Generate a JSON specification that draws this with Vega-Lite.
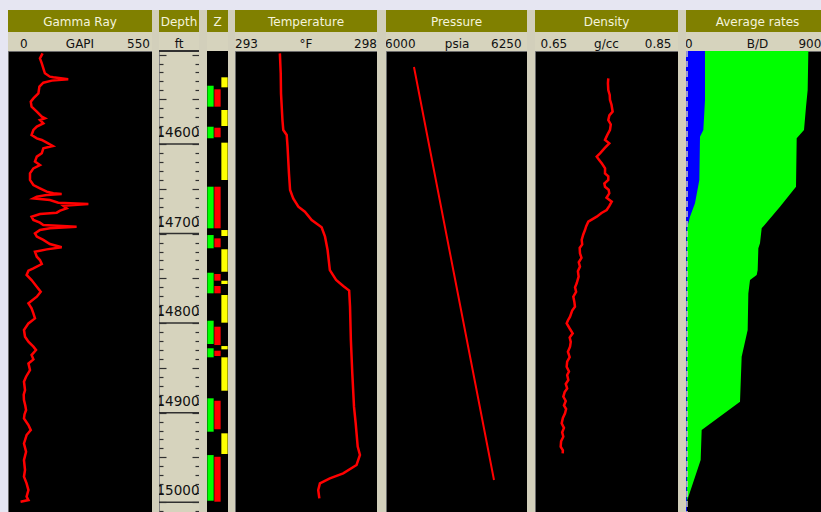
{
  "$schema": "https://vega.github.io/schema/vega-lite/v6.json",
  "padding": {"left": 0, "top": 10, "right": 0, "bottom": 0},
  "background": "#e6e6f2",
  "spacing": 0,
  "bounds": "flush",
  "align": "each",
  "columns": 14,
  "config": {"view": {"stroke": null}, "text": {"font": "DejaVu Sans"}, "scale": {"nice": false}},
  "datasets": {
    "gamma": [
      {"d":14498.6,"v":132},{"d":14504.2,"v":122},{"d":14509.8,"v":129},{"d":14515.4,"v":135},{"d":14520.9,"v":141},{"d":14524.7,"v":160},{"d":14525.4,"v":173},{"d":14527.6,"v":230},{"d":14529.1,"v":167},{"d":14531.4,"v":135},{"d":14535.8,"v":120},{"d":14543.3,"v":116},{"d":14548.9,"v":97},{"d":14552.6,"v":87},{"d":14558.2,"v":90},{"d":14563.8,"v":110},{"d":14569.4,"v":129},{"d":14571.2,"v":141},{"d":14573.1,"v":122},{"d":14576.8,"v":135},{"d":14580.5,"v":110},{"d":14584.2,"v":97},{"d":14589.8,"v":90},{"d":14593.6,"v":110},{"d":14595.4,"v":129},{"d":14598.4,"v":148},{"d":14602.1,"v":171},{"d":14604.7,"v":135},{"d":14610.3,"v":129},{"d":14614.0,"v":110},{"d":14619.6,"v":103},{"d":14623.4,"v":122},{"d":14627.1,"v":97},{"d":14632.7,"v":84},{"d":14640.1,"v":84},{"d":14645.7,"v":97},{"d":14649.4,"v":122},{"d":14653.1,"v":148},{"d":14655.0,"v":173},{"d":14655.8,"v":205},{"d":14656.9,"v":148},{"d":14658.7,"v":110},{"d":14660.6,"v":97},{"d":14662.5,"v":160},{"d":14665.4,"v":192},{"d":14666.9,"v":307},{"d":14668.8,"v":211},{"d":14671.8,"v":224},{"d":14674.4,"v":199},{"d":14676.6,"v":186},{"d":14678.1,"v":122},{"d":14681.1,"v":90},{"d":14684.8,"v":97},{"d":14687.8,"v":122},{"d":14690.4,"v":135},{"d":14692.3,"v":262},{"d":14694.1,"v":160},{"d":14696.0,"v":122},{"d":14699.7,"v":103},{"d":14703.4,"v":110},{"d":14707.1,"v":135},{"d":14711.6,"v":160},{"d":14715.3,"v":205},{"d":14717.6,"v":148},{"d":14720.2,"v":103},{"d":14725.8,"v":110},{"d":14729.5,"v":122},{"d":14734.0,"v":129},{"d":14738.8,"v":97},{"d":14741.4,"v":78},{"d":14746.2,"v":71},{"d":14751.9,"v":90},{"d":14759.3,"v":110},{"d":14764.9,"v":125},{"d":14770.5,"v":110},{"d":14777.9,"v":78},{"d":14783.5,"v":90},{"d":14789.1,"v":97},{"d":14794.7,"v":103},{"d":14800.3,"v":78},{"d":14807.7,"v":61},{"d":14815.2,"v":65},{"d":14820.8,"v":78},{"d":14826.3,"v":97},{"d":14830.1,"v":107},{"d":14835.7,"v":90},{"d":14840.5,"v":97},{"d":14845.0,"v":78},{"d":14852.4,"v":84},{"d":14859.9,"v":69},{"d":14865.5,"v":61},{"d":14874.8,"v":65},{"d":14880.0,"v":60},{"d":14886.0,"v":61},{"d":14892.0,"v":66},{"d":14897.1,"v":69},{"d":14902.0,"v":63},{"d":14906.4,"v":61},{"d":14913.9,"v":78},{"d":14919.5,"v":87},{"d":14925.0,"v":71},{"d":14934.4,"v":61},{"d":14943.7,"v":69},{"d":14953.0,"v":61},{"d":14964.1,"v":65},{"d":14971.6,"v":61},{"d":14979.0,"v":71},{"d":14986.5,"v":78},{"d":14993.9,"v":71},{"d":14997.7,"v":78},{"d":14999.5,"v":48}
    ],
    "temp": [
      {"d":14498.6,"v":294.58},{"d":14520.9,"v":294.61},{"d":14543.3,"v":294.62},{"d":14573.1,"v":294.67},{"d":14584.2,"v":294.70},{"d":14589.8,"v":294.82},{"d":14602.9,"v":294.85},{"d":14632.7,"v":294.90},{"d":14651.3,"v":294.94},{"d":14660.6,"v":295.05},{"d":14669.9,"v":295.23},{"d":14675.5,"v":295.46},{"d":14684.8,"v":295.70},{"d":14693.0,"v":296.05},{"d":14703.4,"v":296.17},{"d":14718.3,"v":296.26},{"d":14740.7,"v":296.34},{"d":14751.8,"v":296.56},{"d":14758.5,"v":296.81},{"d":14763.7,"v":297.02},{"d":14781.6,"v":297.05},{"d":14818.9,"v":297.08},{"d":14856.1,"v":297.13},{"d":14893.3,"v":297.19},{"d":14912.0,"v":297.25},{"d":14938.0,"v":297.32},{"d":14947.3,"v":297.40},{"d":14958.5,"v":297.28},{"d":14967.8,"v":296.81},{"d":14973.4,"v":296.34},{"d":14979.0,"v":295.99},{"d":14986.4,"v":295.93},{"d":14995.8,"v":295.97}
    ],
    "pres": [{"d":14513.9,"v":6049.6},{"d":14744.6,"v":6120.5},{"d":14975.3,"v":6191.5}],
    "dens": [
      {"d":14526.5,"v":0.7525},{"d":14532,"v":0.752},{"d":14539.6,"v":0.7525},{"d":14545,"v":0.7545},{"d":14550.7,"v":0.7549},{"d":14556,"v":0.757},{"d":14563.8,"v":0.7586},{"d":14568,"v":0.754},{"d":14573.1,"v":0.7525},{"d":14578,"v":0.756},{"d":14584.2,"v":0.7549},{"d":14590,"v":0.751},{"d":14595.4,"v":0.7479},{"d":14599.1,"v":0.7539},{"d":14604,"v":0.748},{"d":14610.3,"v":0.7409},{"d":14614,"v":0.7363},{"d":14618,"v":0.74},{"d":14621.5,"v":0.7433},{"d":14627,"v":0.748},{"d":14632.7,"v":0.7479},{"d":14636,"v":0.7525},{"d":14640.1,"v":0.7525},{"d":14644,"v":0.747},{"d":14647.6,"v":0.7479},{"d":14651,"v":0.753},{"d":14655,"v":0.7539},{"d":14660,"v":0.75},{"d":14664.3,"v":0.7573},{"d":14669,"v":0.754},{"d":14673.6,"v":0.7502},{"d":14677,"v":0.743},{"d":14681.1,"v":0.7363},{"d":14686.7,"v":0.7245},{"d":14692,"v":0.7215},{"d":14696,"v":0.7199},{"d":14701,"v":0.7175},{"d":14707.1,"v":0.7153},{"d":14712,"v":0.716},{"d":14716,"v":0.7125},{"d":14722,"v":0.7129},{"d":14727,"v":0.715},{"d":14732,"v":0.7112},{"d":14736.9,"v":0.7129},{"d":14742,"v":0.71},{"d":14748,"v":0.711},{"d":14755.5,"v":0.7083},{"d":14760,"v":0.706},{"d":14765,"v":0.7075},{"d":14770.5,"v":0.7036},{"d":14776,"v":0.705},{"d":14781.6,"v":0.7059},{"d":14786,"v":0.702},{"d":14792.8,"v":0.699},{"d":14797,"v":0.696},{"d":14800.2,"v":0.6943},{"d":14806,"v":0.6985},{"d":14811.4,"v":0.7027},{"d":14816,"v":0.6985},{"d":14821,"v":0.7},{"d":14826.3,"v":0.699},{"d":14832,"v":0.696},{"d":14838,"v":0.6985},{"d":14843,"v":0.695},{"d":14848.7,"v":0.6943},{"d":14854,"v":0.6975},{"d":14858,"v":0.695},{"d":14863.5,"v":0.6966},{"d":14868,"v":0.693},{"d":14873,"v":0.695},{"d":14877,"v":0.6915},{"d":14882.2,"v":0.6896},{"d":14887,"v":0.693},{"d":14892,"v":0.6905},{"d":14896,"v":0.6935},{"d":14900.8,"v":0.692},{"d":14906,"v":0.689},{"d":14912,"v":0.6873},{"d":14917,"v":0.6905},{"d":14922,"v":0.688},{"d":14926.9,"v":0.6896},{"d":14932,"v":0.6865},{"d":14938,"v":0.6859},{"d":14942,"v":0.689},{"d":14945.5,"v":0.6887}
    ],
    "zones": [
      {"lane":"Y","top":14525.4,"bottom":14536.6},{"lane":"Y","top":14561.9,"bottom":14579.8},{"lane":"Y","top":14598.4,"bottom":14640.1},{"lane":"Y","top":14696.0,"bottom":14702.7},{"lane":"Y","top":14717.5,"bottom":14742.6},{"lane":"Y","top":14752.6,"bottom":14756.3},{"lane":"Y","top":14768.6,"bottom":14799.5},{"lane":"Y","top":14825.6,"bottom":14829.3},{"lane":"Y","top":14838.2,"bottom":14875.5},{"lane":"Y","top":14923.1,"bottom":14946.2},
      {"lane":"G","top":14534.8,"bottom":14558.2},{"lane":"G","top":14580.6,"bottom":14593.5},{"lane":"G","top":14647.6,"bottom":14694.1},{"lane":"G","top":14701.6,"bottom":14716.4},{"lane":"G","top":14743.7,"bottom":14766.7},{"lane":"G","top":14797.3,"bottom":14823.3},{"lane":"G","top":14828.1,"bottom":14838.2},{"lane":"G","top":14884.0,"bottom":14921.3},{"lane":"G","top":14947.4,"bottom":14998.4},
      {"lane":"R","top":14538.8,"bottom":14558.2},{"lane":"R","top":14581.7,"bottom":14592.4},{"lane":"R","top":14647.6,"bottom":14694.1},{"lane":"R","top":14705.3,"bottom":14715.3},{"lane":"R","top":14745.1,"bottom":14752.6},{"lane":"R","top":14758.5,"bottom":14766.7},{"lane":"R","top":14804.0,"bottom":14824.5},{"lane":"R","top":14830.8,"bottom":14836.7},{"lane":"R","top":14886.7,"bottom":14918.6},{"lane":"R","top":14949.3,"bottom":14999.5}
    ],
    "majors": [{"d":14600,"label":"14600"},{"d":14700,"label":"14700"},{"d":14800,"label":"14800"},{"d":14900,"label":"14900"},{"d":15000,"label":"15000"}],
    "blue": [{"d":14496,"v":1196},{"d":14550.7,"v":1196},{"d":14584.2,"v":1091},{"d":14591.7,"v":881},{"d":14640.1,"v":839},{"d":14666.2,"v":566},{"d":14681.1,"v":252},{"d":14692.3,"v":84},{"d":14700,"v":60},{"d":15011,"v":60}],
    "total": [{"d":14496,"v":7700},{"d":14539.6,"v":7657},{"d":14558.2,"v":7553},{"d":14584.2,"v":7427},{"d":14593.6,"v":6966},{"d":14647.6,"v":6923},{"d":14669.9,"v":5916},{"d":14694.1,"v":4763},{"d":14710.9,"v":4657},{"d":14716.4,"v":4553},{"d":14740.7,"v":4511},{"d":14746.3,"v":4448},{"d":14751.9,"v":4028},{"d":14766.8,"v":3923},{"d":14807.7,"v":3881},{"d":14837.5,"v":3503},{"d":14887.8,"v":3399},{"d":14919.5,"v":986},{"d":14953.0,"v":923},{"d":14997.7,"v":84},{"d":15008.8,"v":0},{"d":15011,"v":0}]
  },
  "concat": [
    {"width": 8, "height": 22, "view": {"fill": "#e6e6f2"}, "data": {"values": [{"a": 0}]}, "mark": {"type": "text", "text": ""}, "encoding": {"x": {"field": "a", "type": "quantitative", "axis": null}, "y": {"field": "a", "type": "quantitative", "axis": null}}},
    {"width": 144, "height": 22, "view": {"fill": "#808000"}, "data": {"values": [{"t": "Gamma Ray"}]}, "mark": {"type": "text", "color": "#f4f4dc", "fontSize": 12, "baseline": "middle", "dy": 1}, "encoding": {"x": {"datum": 275, "type": "quantitative", "scale": {"domain": [0, 550]}, "axis": null}, "y": {"datum": 0.5, "type": "quantitative", "scale": {"domain": [0, 1]}, "axis": null}, "text": {"field": "t"}}},
    {"width": 7, "height": 22, "view": {"fill": "#d2cfbb"}, "data": {"values": [{"a": 0}]}, "mark": {"type": "text", "text": ""}, "encoding": {"x": {"field": "a", "type": "quantitative", "axis": null}, "y": {"field": "a", "type": "quantitative", "axis": null}}},
    {"width": 40, "height": 22, "view": {"fill": "#808000"}, "data": {"values": [{"t": "Depth"}]}, "mark": {"type": "text", "color": "#f4f4dc", "fontSize": 12, "baseline": "middle", "dy": 1, "clip": true}, "encoding": {"x": {"datum": 0.5, "type": "quantitative", "scale": {"domain": [0, 1]}, "axis": null}, "y": {"datum": 0.5, "type": "quantitative", "scale": {"domain": [0, 1]}, "axis": null}, "text": {"field": "t"}}},
    {"width": 8, "height": 22, "view": {"fill": "#d2cfbb"}, "data": {"values": [{"a": 0}]}, "mark": {"type": "text", "text": ""}, "encoding": {"x": {"field": "a", "type": "quantitative", "axis": null}, "y": {"field": "a", "type": "quantitative", "axis": null}}},
    {"width": 21, "height": 22, "view": {"fill": "#808000"}, "data": {"values": [{"t": "Z"}]}, "mark": {"type": "text", "color": "#f4f4dc", "fontSize": 12, "baseline": "middle", "dy": 1}, "encoding": {"x": {"datum": 0.5, "type": "quantitative", "scale": {"domain": [0, 1]}, "axis": null}, "y": {"datum": 0.5, "type": "quantitative", "scale": {"domain": [0, 1]}, "axis": null}, "text": {"field": "t"}}},
    {"width": 7, "height": 22, "view": {"fill": "#d2cfbb"}, "data": {"values": [{"a": 0}]}, "mark": {"type": "text", "text": ""}, "encoding": {"x": {"field": "a", "type": "quantitative", "axis": null}, "y": {"field": "a", "type": "quantitative", "axis": null}}},
    {"width": 142, "height": 22, "view": {"fill": "#808000"}, "data": {"values": [{"t": "Temperature"}]}, "mark": {"type": "text", "color": "#f4f4dc", "fontSize": 12, "baseline": "middle", "dy": 1}, "encoding": {"x": {"datum": 0.5, "type": "quantitative", "scale": {"domain": [0, 1]}, "axis": null}, "y": {"datum": 0.5, "type": "quantitative", "scale": {"domain": [0, 1]}, "axis": null}, "text": {"field": "t"}}},
    {"width": 9, "height": 22, "view": {"fill": "#d2cfbb"}, "data": {"values": [{"a": 0}]}, "mark": {"type": "text", "text": ""}, "encoding": {"x": {"field": "a", "type": "quantitative", "axis": null}, "y": {"field": "a", "type": "quantitative", "axis": null}}},
    {"width": 141, "height": 22, "view": {"fill": "#808000"}, "data": {"values": [{"t": "Pressure"}]}, "mark": {"type": "text", "color": "#f4f4dc", "fontSize": 12, "baseline": "middle", "dy": 1}, "encoding": {"x": {"datum": 0.5, "type": "quantitative", "scale": {"domain": [0, 1]}, "axis": null}, "y": {"datum": 0.5, "type": "quantitative", "scale": {"domain": [0, 1]}, "axis": null}, "text": {"field": "t"}}},
    {"width": 8, "height": 22, "view": {"fill": "#d2cfbb"}, "data": {"values": [{"a": 0}]}, "mark": {"type": "text", "text": ""}, "encoding": {"x": {"field": "a", "type": "quantitative", "axis": null}, "y": {"field": "a", "type": "quantitative", "axis": null}}},
    {"width": 143, "height": 22, "view": {"fill": "#808000"}, "data": {"values": [{"t": "Density"}]}, "mark": {"type": "text", "color": "#f4f4dc", "fontSize": 12, "baseline": "middle", "dy": 1}, "encoding": {"x": {"datum": 0.5, "type": "quantitative", "scale": {"domain": [0, 1]}, "axis": null}, "y": {"datum": 0.5, "type": "quantitative", "scale": {"domain": [0, 1]}, "axis": null}, "text": {"field": "t"}}},
    {"width": 8, "height": 22, "view": {"fill": "#d2cfbb"}, "data": {"values": [{"a": 0}]}, "mark": {"type": "text", "text": ""}, "encoding": {"x": {"field": "a", "type": "quantitative", "axis": null}, "y": {"field": "a", "type": "quantitative", "axis": null}}},
    {"width": 135, "height": 22, "view": {"fill": "#808000"}, "data": {"values": [{"p": 4500, "t": "Average rates"}]}, "mark": {"type": "text", "color": "#f4f4dc", "fontSize": 12, "baseline": "middle", "dy": 1, "clip": true}, "encoding": {"x": {"field": "p", "type": "quantitative", "scale": {"domain": [0, 8496], "nice": false}, "axis": null}, "y": {"datum": 0.5, "type": "quantitative", "scale": {"domain": [0, 1]}, "axis": null}, "text": {"field": "t"}}},

    {"width": 8, "height": 19, "view": {"fill": "#e6e6f2"}, "data": {"values": [{"a": 0}]}, "mark": {"type": "text", "text": ""}, "encoding": {"x": {"field": "a", "type": "quantitative", "axis": null}, "y": {"field": "a", "type": "quantitative", "axis": null}}},
    {"width": 144, "height": 19, "view": {"fill": "#d6d3bd"}, "data": {"values": [{"p": 60, "t": "0"}, {"p": 275, "t": "GAPI"}]}, "layer": [
      {"mark": {"type": "text", "fontSize": 12, "color": "#111111", "baseline": "middle", "dy": 2, "align": "center", "clip": true}, "encoding": {"x": {"field": "p", "type": "quantitative", "scale": {"domain": [0, 550], "nice": false}, "axis": null}, "y": {"datum": 0.5, "type": "quantitative", "scale": {"domain": [0, 1]}, "axis": null}, "text": {"field": "t"}}},
      {"data": {"values": [{"p": 550, "t": "550"}]}, "mark": {"type": "text", "fontSize": 12, "color": "#111111", "baseline": "middle", "dy": 2, "align": "right", "dx": -2, "clip": true}, "encoding": {"x": {"field": "p", "type": "quantitative", "axis": null}, "y": {"datum": 0.5, "type": "quantitative", "axis": null}, "text": {"field": "t"}}}
    ]},
    {"width": 7, "height": 19, "view": {"fill": "#d2cfbb"}, "data": {"values": [{"a": 0}]}, "mark": {"type": "text", "text": ""}, "encoding": {"x": {"field": "a", "type": "quantitative", "axis": null}, "y": {"field": "a", "type": "quantitative", "axis": null}}},
    {"width": 40, "height": 19, "view": {"fill": "#d6d3bd"}, "data": {"values": [{"t": "ft"}]}, "mark": {"type": "text", "color": "#111111", "fontSize": 12, "baseline": "middle", "dy": 2}, "encoding": {"x": {"datum": 0.5, "type": "quantitative", "scale": {"domain": [0, 1]}, "axis": null}, "y": {"datum": 0.5, "type": "quantitative", "scale": {"domain": [0, 1]}, "axis": null}, "text": {"field": "t"}}},
    {"width": 8, "height": 19, "view": {"fill": "#d2cfbb"}, "data": {"values": [{"a": 0}]}, "mark": {"type": "text", "text": ""}, "encoding": {"x": {"field": "a", "type": "quantitative", "axis": null}, "y": {"field": "a", "type": "quantitative", "axis": null}}},
    {"width": 21, "height": 19, "view": {"fill": "#d6d3bd"}, "data": {"values": [{"a": 0}]}, "mark": {"type": "text", "text": ""}, "encoding": {"x": {"field": "a", "type": "quantitative", "axis": null}, "y": {"field": "a", "type": "quantitative", "axis": null}}},
    {"width": 7, "height": 19, "view": {"fill": "#d2cfbb"}, "data": {"values": [{"a": 0}]}, "mark": {"type": "text", "text": ""}, "encoding": {"x": {"field": "a", "type": "quantitative", "axis": null}, "y": {"field": "a", "type": "quantitative", "axis": null}}},
    {"width": 142, "height": 19, "view": {"fill": "#d6d3bd"}, "layer": [
      {"data": {"values": [{"p": 293, "t": "293"}]}, "mark": {"type": "text", "fontSize": 12, "color": "#111111", "baseline": "middle", "dy": 2, "align": "left", "clip": true}, "encoding": {"x": {"field": "p", "type": "quantitative", "scale": {"domain": [293, 298], "zero": false}, "axis": null}, "y": {"datum": 0.5, "type": "quantitative", "scale": {"domain": [0, 1]}, "axis": null}, "text": {"field": "t"}}},
      {"data": {"values": [{"p": 295.5, "t": "°F"}]}, "mark": {"type": "text", "fontSize": 12, "color": "#111111", "baseline": "middle", "dy": 2, "align": "center", "clip": true}, "encoding": {"x": {"field": "p", "type": "quantitative", "axis": null}, "y": {"datum": 0.5, "type": "quantitative", "axis": null}, "text": {"field": "t"}}},
      {"data": {"values": [{"p": 298, "t": "298"}]}, "mark": {"type": "text", "fontSize": 12, "color": "#111111", "baseline": "middle", "dy": 2, "align": "right", "clip": true}, "encoding": {"x": {"field": "p", "type": "quantitative", "axis": null}, "y": {"datum": 0.5, "type": "quantitative", "axis": null}, "text": {"field": "t"}}}
    ]},
    {"width": 9, "height": 19, "view": {"fill": "#d2cfbb"}, "data": {"values": [{"a": 0}]}, "mark": {"type": "text", "text": ""}, "encoding": {"x": {"field": "a", "type": "quantitative", "axis": null}, "y": {"field": "a", "type": "quantitative", "axis": null}}},
    {"width": 141, "height": 19, "view": {"fill": "#d6d3bd"}, "layer": [
      {"data": {"values": [{"p": 6000, "t": "6000"}]}, "mark": {"type": "text", "fontSize": 12, "color": "#111111", "baseline": "middle", "dy": 2, "align": "left", "dx": -1, "clip": true}, "encoding": {"x": {"field": "p", "type": "quantitative", "scale": {"domain": [6000, 6250], "zero": false}, "axis": null}, "y": {"datum": 0.5, "type": "quantitative", "scale": {"domain": [0, 1]}, "axis": null}, "text": {"field": "t"}}},
      {"data": {"values": [{"p": 6131, "t": "psia"}]}, "mark": {"type": "text", "fontSize": 12, "color": "#111111", "baseline": "middle", "dy": 2, "align": "center", "clip": true}, "encoding": {"x": {"field": "p", "type": "quantitative", "axis": null}, "y": {"datum": 0.5, "type": "quantitative", "axis": null}, "text": {"field": "t"}}},
      {"data": {"values": [{"p": 6250, "t": "6250"}]}, "mark": {"type": "text", "fontSize": 12, "color": "#111111", "baseline": "middle", "dy": 2, "align": "right", "clip": true}, "encoding": {"x": {"field": "p", "type": "quantitative", "axis": null}, "y": {"datum": 0.5, "type": "quantitative", "axis": null}, "text": {"field": "t"}}}
    ]},
    {"width": 8, "height": 19, "view": {"fill": "#d2cfbb"}, "data": {"values": [{"a": 0}]}, "mark": {"type": "text", "text": ""}, "encoding": {"x": {"field": "a", "type": "quantitative", "axis": null}, "y": {"field": "a", "type": "quantitative", "axis": null}}},
    {"width": 143, "height": 19, "view": {"fill": "#d6d3bd"}, "layer": [
      {"data": {"values": [{"p": 0.65, "t": "0.65"}]}, "mark": {"type": "text", "fontSize": 12, "color": "#111111", "baseline": "middle", "dy": 2, "align": "left", "dx": -1, "clip": true}, "encoding": {"x": {"field": "p", "type": "quantitative", "scale": {"domain": [0.65, 0.85], "zero": false}, "axis": null}, "y": {"datum": 0.5, "type": "quantitative", "scale": {"domain": [0, 1]}, "axis": null}, "text": {"field": "t"}}},
      {"data": {"values": [{"p": 0.75, "t": "g/cc"}]}, "mark": {"type": "text", "fontSize": 12, "color": "#111111", "baseline": "middle", "dy": 2, "align": "center", "clip": true}, "encoding": {"x": {"field": "p", "type": "quantitative", "axis": null}, "y": {"datum": 0.5, "type": "quantitative", "axis": null}, "text": {"field": "t"}}},
      {"data": {"values": [{"p": 0.85, "t": "0.85"}]}, "mark": {"type": "text", "fontSize": 12, "color": "#111111", "baseline": "middle", "dy": 2, "align": "right", "clip": true}, "encoding": {"x": {"field": "p", "type": "quantitative", "axis": null}, "y": {"datum": 0.5, "type": "quantitative", "axis": null}, "text": {"field": "t"}}}
    ]},
    {"width": 8, "height": 19, "view": {"fill": "#d2cfbb"}, "data": {"values": [{"a": 0}]}, "mark": {"type": "text", "text": ""}, "encoding": {"x": {"field": "a", "type": "quantitative", "axis": null}, "y": {"field": "a", "type": "quantitative", "axis": null}}},
    {"width": 135, "height": 19, "view": {"fill": "#d6d3bd"}, "layer": [
      {"data": {"values": [{"p": 0, "t": "0"}]}, "mark": {"type": "text", "fontSize": 12, "color": "#111111", "baseline": "middle", "dy": 2, "align": "left", "dx": -1, "clip": true}, "encoding": {"x": {"field": "p", "type": "quantitative", "scale": {"domain": [0, 8496], "nice": false}, "axis": null}, "y": {"datum": 0.5, "type": "quantitative", "scale": {"domain": [0, 1]}, "axis": null}, "text": {"field": "t"}}},
      {"data": {"values": [{"p": 4500, "t": "B/D"}]}, "mark": {"type": "text", "fontSize": 12, "color": "#111111", "baseline": "middle", "dy": 2, "align": "center", "clip": true}, "encoding": {"x": {"field": "p", "type": "quantitative", "axis": null}, "y": {"datum": 0.5, "type": "quantitative", "axis": null}, "text": {"field": "t"}}},
      {"data": {"values": [{"p": 9000, "t": "9000"}]}, "mark": {"type": "text", "fontSize": 12, "color": "#111111", "baseline": "middle", "dy": 2, "align": "right", "clip": true}, "encoding": {"x": {"field": "p", "type": "quantitative", "axis": null}, "y": {"datum": 0.5, "type": "quantitative", "axis": null}, "text": {"field": "t"}}}
    ]},

    {"width": 8, "height": 461, "view": {"fill": "#e6e6f2"}, "data": {"values": [{"a": 0}]}, "mark": {"type": "text", "text": ""}, "encoding": {"x": {"field": "a", "type": "quantitative", "axis": null}, "y": {"field": "a", "type": "quantitative", "axis": null}}},
    {"width": 144, "height": 461, "view": {"fill": "#000000", "stroke": "#6a6a6a"}, "data": {"name": "gamma"}, "mark": {"type": "line", "color": "#ff0000", "strokeWidth": 2.5, "clip": true}, "encoding": {
      "x": {"field": "v", "type": "quantitative", "scale": {"domain": [0, 550], "nice": false}, "axis": null},
      "y": {"field": "d", "type": "quantitative", "scale": {"domain": [14496, 15011], "reverse": true, "nice": false, "zero": false}, "axis": null},
      "order": {"field": "d"}}},
    {"width": 7, "height": 461, "view": {"fill": "#d2cfbb"}, "data": {"values": [{"a": 0}]}, "mark": {"type": "text", "text": ""}, "encoding": {"x": {"field": "a", "type": "quantitative", "axis": null}, "y": {"field": "a", "type": "quantitative", "axis": null}}},
    {"width": 40, "height": 461, "view": {"fill": "#d6d3bd", "stroke": "#8a8a8a"}, "resolve": {"axis": {"y": "independent"}}, "layer": [
      {"data": {"name": "majors"}, "mark": {"type": "rule", "color": "#303030", "strokeWidth": 1.5}, "encoding": {
        "x": {"datum": 0, "type": "quantitative", "scale": {"domain": [0, 1]}, "axis": null},
        "x2": {"datum": 1},
        "y": {"field": "d", "type": "quantitative", "scale": {"domain": [14496, 15011], "reverse": true, "nice": false, "zero": false},
          "axis": {"orient": "left", "labels": false, "domain": false, "grid": false, "title": null, "minExtent": 0, "maxExtent": 0, "tickColor": "#303030", "tickWidth": 1.2,
            "tickSize": {"condition": {"test": "datum.value % 50 === 0", "value": -7}, "value": -4},
            "values": [14500,14510,14520,14530,14540,14550,14560,14570,14580,14590,14600,14610,14620,14630,14640,14650,14660,14670,14680,14690,14700,14710,14720,14730,14740,14750,14760,14770,14780,14790,14800,14810,14820,14830,14840,14850,14860,14870,14880,14890,14900,14910,14920,14930,14940,14950,14960,14970,14980,14990,15000,15010]}}}},
      {"data": {"name": "majors"}, "mark": {"type": "text", "fontSize": 13.5, "color": "#111111", "baseline": "alphabetic", "dy": -7, "dx": -1, "clip": true}, "encoding": {
        "x": {"datum": 0.5, "type": "quantitative", "axis": null},
        "y": {"field": "d", "type": "quantitative",
          "axis": {"orient": "right", "labels": false, "domain": false, "grid": false, "title": null, "minExtent": 0, "maxExtent": 0, "tickColor": "#303030", "tickWidth": 1.2,
            "tickSize": {"condition": {"test": "datum.value % 50 === 0", "value": -7}, "value": -4},
            "values": [14500,14510,14520,14530,14540,14550,14560,14570,14580,14590,14600,14610,14620,14630,14640,14650,14660,14670,14680,14690,14700,14710,14720,14730,14740,14750,14760,14770,14780,14790,14800,14810,14820,14830,14840,14850,14860,14870,14880,14890,14900,14910,14920,14930,14940,14950,14960,14970,14980,14990,15000,15010]}},
        "text": {"field": "label"}}},
      {"data": {"values": [{"a": 14496}]}, "mark": {"type": "rule", "color": "#303030", "strokeWidth": 2}, "encoding": {"x": {"datum": 0, "type": "quantitative", "axis": null}, "x2": {"datum": 1}, "y": {"field": "a", "type": "quantitative", "axis": null}}}
    ]},
    {"width": 8, "height": 461, "view": {"fill": "#d2cfbb"}, "data": {"values": [{"a": 0}]}, "mark": {"type": "text", "text": ""}, "encoding": {"x": {"field": "a", "type": "quantitative", "axis": null}, "y": {"field": "a", "type": "quantitative", "axis": null}}},
    {"width": 21, "height": 461, "view": {"fill": "#000000"}, "data": {"name": "zones"}, "mark": {"type": "rect", "clip": true}, "encoding": {
      "x": {"field": "lane", "type": "nominal", "scale": {"domain": ["G", "R", "Y"], "paddingInner": 0.1, "paddingOuter": 0.05}, "axis": null},
      "y": {"field": "top", "type": "quantitative", "scale": {"domain": [14496, 15011], "reverse": true, "nice": false, "zero": false}, "axis": null},
      "y2": {"field": "bottom"},
      "color": {"field": "lane", "type": "nominal", "scale": {"domain": ["G", "R", "Y"], "range": ["#00ff00", "#ff0000", "#ffff00"]}, "legend": null}}},
    {"width": 7, "height": 461, "view": {"fill": "#d2cfbb"}, "data": {"values": [{"a": 0}]}, "mark": {"type": "text", "text": ""}, "encoding": {"x": {"field": "a", "type": "quantitative", "axis": null}, "y": {"field": "a", "type": "quantitative", "axis": null}}},
    {"width": 142, "height": 461, "view": {"fill": "#000000", "stroke": "#6a6a6a"}, "data": {"name": "temp"}, "mark": {"type": "line", "color": "#ff0000", "strokeWidth": 2.5, "clip": true}, "encoding": {
      "x": {"field": "v", "type": "quantitative", "scale": {"domain": [293, 298], "zero": false}, "axis": null},
      "y": {"field": "d", "type": "quantitative", "scale": {"domain": [14496, 15011], "reverse": true, "nice": false, "zero": false}, "axis": null},
      "order": {"field": "d"}}},
    {"width": 9, "height": 461, "view": {"fill": "#d2cfbb"}, "data": {"values": [{"a": 0}]}, "mark": {"type": "text", "text": ""}, "encoding": {"x": {"field": "a", "type": "quantitative", "axis": null}, "y": {"field": "a", "type": "quantitative", "axis": null}}},
    {"width": 141, "height": 461, "view": {"fill": "#000000", "stroke": "#6a6a6a"}, "data": {"name": "pres"}, "mark": {"type": "line", "color": "#ff0000", "strokeWidth": 2, "clip": true}, "encoding": {
      "x": {"field": "v", "type": "quantitative", "scale": {"domain": [6000, 6250], "zero": false}, "axis": null},
      "y": {"field": "d", "type": "quantitative", "scale": {"domain": [14496, 15011], "reverse": true, "nice": false, "zero": false}, "axis": null},
      "order": {"field": "d"}}},
    {"width": 8, "height": 461, "view": {"fill": "#d2cfbb"}, "data": {"values": [{"a": 0}]}, "mark": {"type": "text", "text": ""}, "encoding": {"x": {"field": "a", "type": "quantitative", "axis": null}, "y": {"field": "a", "type": "quantitative", "axis": null}}},
    {"width": 143, "height": 461, "view": {"fill": "#000000", "stroke": "#6a6a6a"}, "data": {"name": "dens"}, "mark": {"type": "line", "color": "#ff0000", "strokeWidth": 2.5, "clip": true}, "encoding": {
      "x": {"field": "v", "type": "quantitative", "scale": {"domain": [0.65, 0.85], "zero": false}, "axis": null},
      "y": {"field": "d", "type": "quantitative", "scale": {"domain": [14496, 15011], "reverse": true, "nice": false, "zero": false}, "axis": null},
      "order": {"field": "d"}}},
    {"width": 8, "height": 461, "view": {"fill": "#d2cfbb"}, "data": {"values": [{"a": 0}]}, "mark": {"type": "text", "text": ""}, "encoding": {"x": {"field": "a", "type": "quantitative", "axis": null}, "y": {"field": "a", "type": "quantitative", "axis": null}}},
    {"width": 135, "height": 461, "view": {"fill": "#000000", "stroke": "#6a6a6a"}, "layer": [
      {"data": {"name": "total"}, "mark": {"type": "area", "orient": "horizontal", "color": "#00ff00", "opacity": 1, "clip": true}, "encoding": {
        "x": {"field": "v", "type": "quantitative", "scale": {"domain": [0, 8496], "nice": false}, "axis": null, "stack": null},
        "x2": {"datum": 0},
        "y": {"field": "d", "type": "quantitative", "scale": {"domain": [14496, 15011], "reverse": true, "nice": false, "zero": false}, "axis": null}}},
      {"data": {"name": "blue"}, "mark": {"type": "area", "orient": "horizontal", "color": "#0000ff", "opacity": 1, "clip": true}, "encoding": {
        "x": {"field": "v", "type": "quantitative", "axis": null, "stack": null},
        "x2": {"datum": 0},
        "y": {"field": "d", "type": "quantitative", "axis": null}}},
      {"data": {"values": [{"x": 65, "top": 14496, "bottom": 15011}]}, "mark": {"type": "rule", "color": "#c8c8c8", "strokeWidth": 1.5, "strokeDash": [6, 4]}, "encoding": {"x": {"field": "x", "type": "quantitative", "axis": null}, "y": {"field": "top", "type": "quantitative", "axis": null}, "y2": {"field": "bottom"}}}
    ]}
  ]
}
